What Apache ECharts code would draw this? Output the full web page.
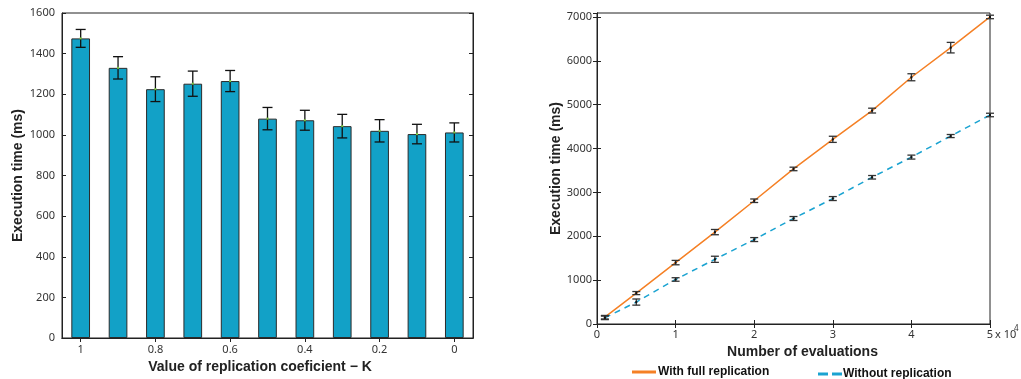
<!DOCTYPE html>
<html>
<head>
<meta charset="utf-8">
<script src="https://cdn.jsdelivr.net/npm/echarts@6/dist/echarts.min.js"></script>
<style>html,body{margin:0;padding:0;background:#fff}#c{width:1021px;height:379px}</style>
</head>
<body>
<div id="c"></div>
<script>
// ---- Left chart data ----
const kLabels = ['1','0.9','0.8','0.7','0.6','0.5','0.4','0.3','0.2','0.1','0'];
const barMeans = [1475,1330,1225,1252,1265,1080,1072,1043,1020,1004,1012];
const barErrors = [44,55,61,62,52,55,49,58,55,48,47];
const leftYTicks = [0,200,400,600,800,1000,1200,1400,1600];

// ---- Right chart data ----
const evals = [1000,5000,10000,15000,20000,25000,30000,35000,40000,45000,50000];
const fullRep = [155,705,1400,2095,2810,3535,4210,4865,5625,6300,7000];
const fullRepErr = [40,35,50,60,40,40,70,55,80,120,40];
const noRep = [140,500,1015,1475,1925,2405,2860,3345,3805,4285,4765];
const noRepErr = [40,70,40,70,45,45,45,40,45,35,40];
const rightXTickLabels = ['0','1','2','3','4','5'];
const seriesNames = ['With full replication','Without replication'];

const tickFont = {fontFamily:'Noto Sans', fontSize:11, color:'#333'};
const titleFont = {fontFamily:'Liberation Sans', fontSize:14, fontWeight:'bold', color:'#222'};
const axisLineStyle = {show:true, lineStyle:{color:'#222', width:1}};

function errRender(capHalf, color, dotColor){
  return function(params, api){
    const x = api.value(0), m = api.value(1), e = api.value(2);
    const top = api.coord([x, m + e]);
    const bot = api.coord([x, m - e]);
    const mid = api.coord([x, m]);
    const st = {stroke: color, lineWidth: 1.3};
    return {type:'group', children:[
      {type:'line', shape:{x1:top[0],y1:top[1],x2:bot[0],y2:bot[1]}, style:st},
      {type:'line', shape:{x1:top[0]-capHalf,y1:top[1],x2:top[0]+capHalf,y2:top[1]}, style:st},
      {type:'line', shape:{x1:bot[0]-capHalf,y1:bot[1],x2:bot[0]+capHalf,y2:bot[1]}, style:st},
      {type:'rect', shape:{x:mid[0]-1,y:mid[1]-1,width:2,height:2}, style:{fill:dotColor}}
    ]};
  };
}

const chart = echarts.init(document.getElementById('c'), null, {renderer:'canvas'});
const leftMin = leftYTicks[0], leftMax = leftYTicks[leftYTicks.length-1];
const leftInt = leftYTicks[1]-leftYTicks[0];
const legendText = {fontFamily:'Liberation Sans', fontSize:12, fontWeight:'bold', color:'#111'};

chart.setOption({
  animation:false,
  backgroundColor:'#fff',
  grid:[
    {left:62, top:13, width:411, height:325, show:true, borderColor:'#222', borderWidth:1, backgroundColor:'transparent'},
    {left:597, top:13, width:393, height:311, show:true, borderColor:'#222', borderWidth:1, backgroundColor:'transparent'}
  ],
  legend:[
    {data:[{name:seriesNames[0], icon:'rect'}], left:632, top:366, padding:0, itemWidth:24, itemHeight:3, itemGap:0,
     textStyle:Object.assign({padding:[0,0,0,-3]}, legendText)},
    {data:[{name:seriesNames[1], icon:'path://M0,0H10V3H0Z M14,0H24V3H14Z'}], left:818, top:368, padding:0, itemWidth:24, itemHeight:3, itemGap:0,
     textStyle:Object.assign({padding:[0,0,0,-4]}, legendText)}
  ],
  xAxis:[
    {type:'category', gridIndex:0, data:kLabels, position:'bottom', boundaryGap:true,
     axisLine:axisLineStyle, axisTick:{show:true, inside:true, interval:1, alignWithLabel:true, length:4, lineStyle:{color:'#222'}},
     axisLabel:Object.assign({interval:1, margin:6}, tickFont),
     name:'Value of replication coeficient \u2212 K', nameLocation:'middle', nameGap:20,
     nameTextStyle:Object.assign({padding:[0,15,0,0]}, titleFont), splitLine:{show:false}},
    {type:'category', gridIndex:0, data:kLabels, position:'top', boundaryGap:true,
     axisLine:axisLineStyle, axisTick:{show:true, inside:true, interval:1, alignWithLabel:true, length:4, lineStyle:{color:'#222'}},
     axisLabel:{show:false}, splitLine:{show:false}},
    {type:'value', gridIndex:1, min:0, max:50000, interval:10000, position:'bottom',
     axisLine:axisLineStyle, axisTick:{show:true, inside:true, length:4, lineStyle:{color:'#222'}},
     axisLabel:Object.assign({margin:5, formatter:function(v){ return rightXTickLabels[Math.round(v/10000)]; }}, tickFont),
     name:'Number of evaluations', nameLocation:'middle', nameGap:12,
     nameTextStyle:Object.assign({padding:[0,0,0,18]}, titleFont), splitLine:{show:false}},
    {type:'value', gridIndex:1, min:0, max:50000, interval:10000, position:'top',
     axisLine:axisLineStyle, axisTick:{show:true, inside:true, length:4, lineStyle:{color:'#222'}},
     axisLabel:{show:false}, splitLine:{show:false}}
  ],
  yAxis:[
    {type:'value', gridIndex:0, min:leftMin, max:leftMax, interval:leftInt, position:'left',
     axisLine:axisLineStyle, axisTick:{show:true, inside:true, length:4, lineStyle:{color:'#222'}},
     axisLabel:Object.assign({margin:7, formatter:function(v){ return String(v); }}, tickFont),
     name:'Execution time (ms)', nameLocation:'middle', nameGap:37, nameTextStyle:titleFont, splitLine:{show:false}},
    {type:'value', gridIndex:0, min:leftMin, max:leftMax, interval:leftInt, position:'right',
     axisLine:axisLineStyle, axisTick:{show:true, inside:true, length:4, lineStyle:{color:'#222'}},
     axisLabel:{show:false}, splitLine:{show:false}},
    {type:'value', gridIndex:1, min:0, max:7090, interval:1000, position:'left',
     axisLine:axisLineStyle, axisTick:{show:true, inside:true, length:4, lineStyle:{color:'#222'}},
     axisLabel:Object.assign({margin:5, showMaxLabel:false, formatter:function(v){ return v % 1000 === 0 ? String(v) : ''; }}, tickFont),
     name:'Execution time (ms)', nameLocation:'middle', nameGap:34, nameTextStyle:titleFont, splitLine:{show:false}},
    {type:'value', gridIndex:1, min:0, max:7090, interval:1000, position:'right',
     axisLine:axisLineStyle, axisTick:{show:true, inside:true, length:4, lineStyle:{color:'#222'}},
     axisLabel:{show:false}, splitLine:{show:false}}
  ],
  graphic:[
    {type:'text', left:995, top:329, style:{text:'x 10', font:'11px "Noto Sans"', fill:'#333'}},
    {type:'text', left:1014, top:325, style:{text:'4', font:'8px "Noto Sans"', fill:'#333'}}
  ],
  series:[
    {type:'bar', xAxisIndex:0, yAxisIndex:0, data:barMeans, barWidth:'50%',
     itemStyle:{color:'#12a1c7', borderColor:'#2b2b2b', borderWidth:1}, z:2},
    {type:'custom', xAxisIndex:0, yAxisIndex:0, z:5,
     data:barMeans.map(function(m,i){ return [i, m, barErrors[i]]; }),
     renderItem:errRender(5, '#111', '#7ac943')},
    {type:'line', name:seriesNames[0], xAxisIndex:2, yAxisIndex:2, symbol:'none',
     data:evals.map(function(x,i){ return [x, fullRep[i]]; }),
     lineStyle:{color:'#f58025', width:1.5}, itemStyle:{color:'#f58025'}, z:3},
    {type:'line', name:seriesNames[1], xAxisIndex:2, yAxisIndex:2, symbol:'none',
     data:evals.map(function(x,i){ return [x, noRep[i]]; }),
     lineStyle:{color:'#1aa3d1', width:1.5, type:[6,5]}, itemStyle:{color:'#1aa3d1'}, z:3},
    {type:'custom', xAxisIndex:2, yAxisIndex:2, z:5,
     data:evals.map(function(x,i){ return [x, fullRep[i], fullRepErr[i]]; }),
     renderItem:errRender(4, '#333', '#111')},
    {type:'custom', xAxisIndex:2, yAxisIndex:2, z:5,
     data:evals.map(function(x,i){ return [x, noRep[i], noRepErr[i]]; }),
     renderItem:errRender(4, '#333', '#111')}
  ]
});
</script>
</body>
</html>
